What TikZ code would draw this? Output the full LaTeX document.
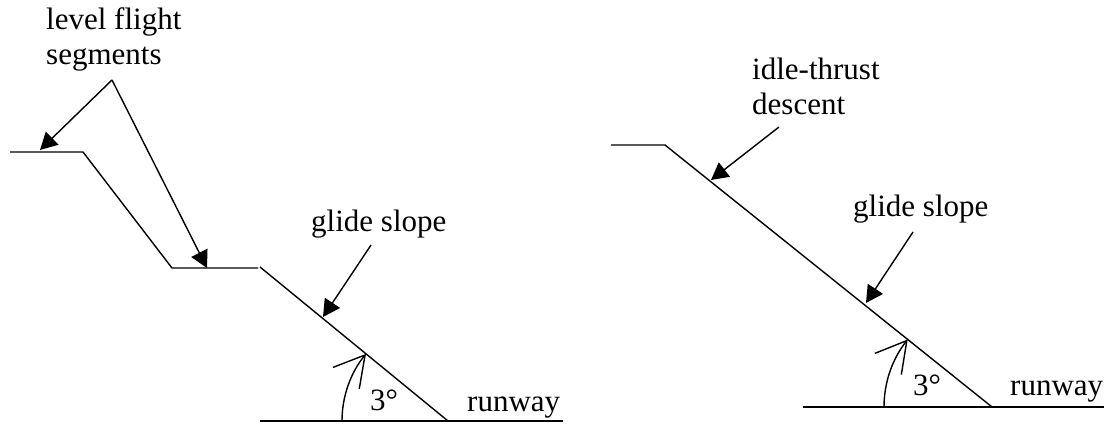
\documentclass[tikz,border=0pt]{standalone}
\usepackage{fontspec}
\setmainfont{Liberation Serif}
\usetikzlibrary{arrows.meta}
\begin{document}
\begin{tikzpicture}[x=1pt,y=-1pt,
  path/.style={line width=1.4pt},
  pointer/.style={line width=1.4pt,-{Triangle[length=17pt,width=18pt]}},
  anglearc/.style={line width=1.4pt,-{Straight Barb[length=30pt,width=34pt]}},
  lbl/.style={font=\fontsize{31}{35}\selectfont,inner sep=0pt,anchor=base west,align=left}]
\useasboundingbox (0,0) rectangle (1110,423);
% ---------- left diagram ----------
\coordinate (a1) at (10,152);
\coordinate (a2) at (83,152);
\coordinate (a3) at (172,268);
\coordinate (a4) at (258,268);
\coordinate (g1) at (260,267);
\coordinate (v1) at (448,421);
\coordinate (r1s) at (260,421);
\coordinate (r1e) at (563,421);
\draw[path] (a1) -- (a2) -- (a3) -- (a4);
\draw[path] (g1) -- (v1);
\draw[path] (r1s) -- (r1e);
\draw[anglearc] (v1) ++(180:106) arc[start angle=180,end angle=219.3,radius=106];
\node[lbl] (lf) at (46,64) {level flight\\segments};
\node[lbl] (gs1) at (311,231) {glide slope};
\node[lbl] (deg1) at (370,410) {3°};
\node[lbl] (rw1) at (467,411) {runway};
\coordinate (lfapex) at (112,80);
\coordinate (t1) at (40,150);
\coordinate (t2) at (207,268);
\coordinate (gs1s) at (371,245);
\coordinate (t3) at (323,317);
\draw[pointer] (lfapex) -- (t1);
\draw[pointer] (lfapex) -- (t2);
\draw[pointer] (gs1s) -- (t3);
% ---------- right diagram ----------
\coordinate (b1) at (611,145);
\coordinate (b2) at (665,145);
\coordinate (v2) at (992,407);
\coordinate (r2s) at (803,407);
\coordinate (r2e) at (1104,407);
\draw[path] (b1) -- (b2) -- (v2);
\draw[path] (r2s) -- (r2e);
\draw[anglearc] (v2) ++(180:108) arc[start angle=180,end angle=218.7,radius=108];
\node[lbl] (it) at (752,114) {idle-thrust\\descent};
\node[lbl] (gs2) at (853,216) {glide slope};
\node[lbl] (deg2) at (913,395) {3°};
\node[lbl] (rw2) at (1010,395) {runway};
\coordinate (its) at (779,127);
\coordinate (t4) at (711,180);
\coordinate (gs2s) at (913,232);
\coordinate (t5) at (866,303);
\draw[pointer] (its) -- (t4);
\draw[pointer] (gs2s) -- (t5);
\end{tikzpicture}
\end{document}
